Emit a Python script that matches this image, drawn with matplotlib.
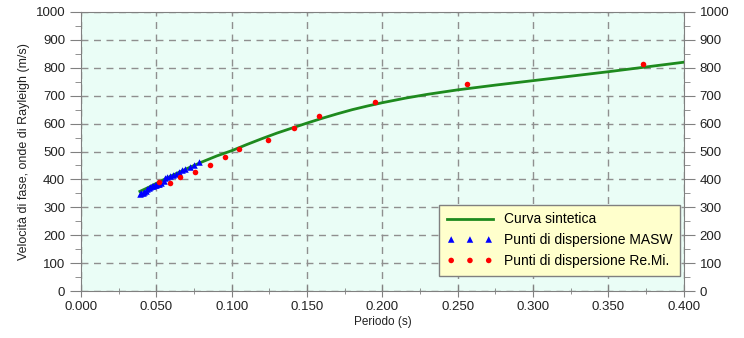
import numpy as np
import matplotlib
matplotlib.use('Agg')
import matplotlib.pyplot as plt
from matplotlib.ticker import MultipleLocator, FormatStrFormatter

plt.rcParams['font.family'] = ['Liberation Sans', 'DejaVu Sans']

# Curva sintetica
curve_T = [0.039, 0.045, 0.050, 0.060, 0.070, 0.080, 0.090, 0.100, 0.110, 0.120,
           0.130, 0.140, 0.150, 0.160, 0.170, 0.180, 0.190, 0.200, 0.215, 0.230,
           0.250, 0.275, 0.300, 0.325, 0.350, 0.375, 0.400]
curve_v = [357, 372, 386, 413, 438, 462, 484, 503, 525, 546,
           566, 584, 602, 619, 635, 650, 663, 675, 691, 705,
           721, 738, 754, 770, 786, 803, 820]

# Punti MASW
masw_T = [0.039, 0.040, 0.041, 0.042, 0.043, 0.044, 0.045, 0.046, 0.047, 0.048,
          0.049, 0.050, 0.051, 0.052, 0.053, 0.055, 0.056, 0.057, 0.059, 0.061,
          0.063, 0.065, 0.067, 0.069, 0.072, 0.075, 0.078]
masw_v = [347, 350, 352, 356, 360, 365, 368, 372, 375, 378,
          380, 381, 382, 384, 386, 395, 405, 410, 413, 416,
          420, 426, 432, 436, 446, 452, 462]

# Punti Re.Mi.
remi_T = [0.052, 0.0587, 0.0658, 0.0757, 0.0853, 0.0952, 0.105, 0.124,
          0.1415, 0.1577, 0.1953, 0.2563, 0.3728]
remi_v = [392, 388, 408, 428, 451, 480, 510, 542,
          583, 626, 677, 743, 815]

fig = plt.figure(figsize=(7.44, 3.38), dpi=100)
ax = fig.add_axes([0.109, 0.139, 0.810, 0.8255])
ax.set_facecolor('#eafdf6')

ax.plot(curve_T, curve_v, color='#1e8a1e', lw=2, label='Curva sintetica', zorder=3)
ax.scatter(masw_T, masw_v, marker='^', s=22, color='#0000ff', linewidths=0,
           label='Punti di dispersione MASW', zorder=4)
ax.scatter(remi_T, remi_v, marker='o', s=16, color='#ff0000', linewidths=0,
           label='Punti di dispersione Re.Mi.', zorder=4)

ax.set_xlim(0, 0.4)
ax.set_ylim(0, 1000)
ax.xaxis.set_major_locator(MultipleLocator(0.05))
ax.xaxis.set_minor_locator(MultipleLocator(0.025))
ax.xaxis.set_major_formatter(FormatStrFormatter('%.3f'))
ax.yaxis.set_major_locator(MultipleLocator(100))
ax.yaxis.set_minor_locator(MultipleLocator(50))
ax.grid(True, which='major', color='#8f8f8f', linestyle=(0, (5, 4)), lw=1)

for s in ax.spines.values():
    s.set_color('#808080')
ax.tick_params(axis='both', which='both', colors='#808080', labelcolor='#222222',
               labelsize=9.5)
ax.tick_params(axis='x', which='major', direction='inout', length=8)
ax.tick_params(axis='x', which='minor', direction='inout', length=5)
ax.tick_params(axis='y', which='major', direction='out', length=8,
               right=True, labelright=True)
ax.tick_params(axis='y', which='minor', direction='out', length=4, right=True)

ax.set_xlabel('Periodo (s)', fontsize=8.5, color='#222222', labelpad=2)
ax.set_ylabel('Velocità di fase, onde di Rayleigh (m/s)', fontsize=9,
              color='#222222', labelpad=4)

leg = ax.legend(loc='lower right', bbox_to_anchor=(0.994, 0.054), scatterpoints=3,
                scatteryoffsets=[0.5], fontsize=10, frameon=True, fancybox=False,
                handlelength=3.3, handletextpad=0.8, borderpad=0.55,
                labelspacing=0.5, borderaxespad=0)
leg.get_frame().set_facecolor('#ffffcc')
leg.get_frame().set_edgecolor('#808080')
leg.get_frame().set_alpha(1)

fig.savefig('out.png', dpi=100)
